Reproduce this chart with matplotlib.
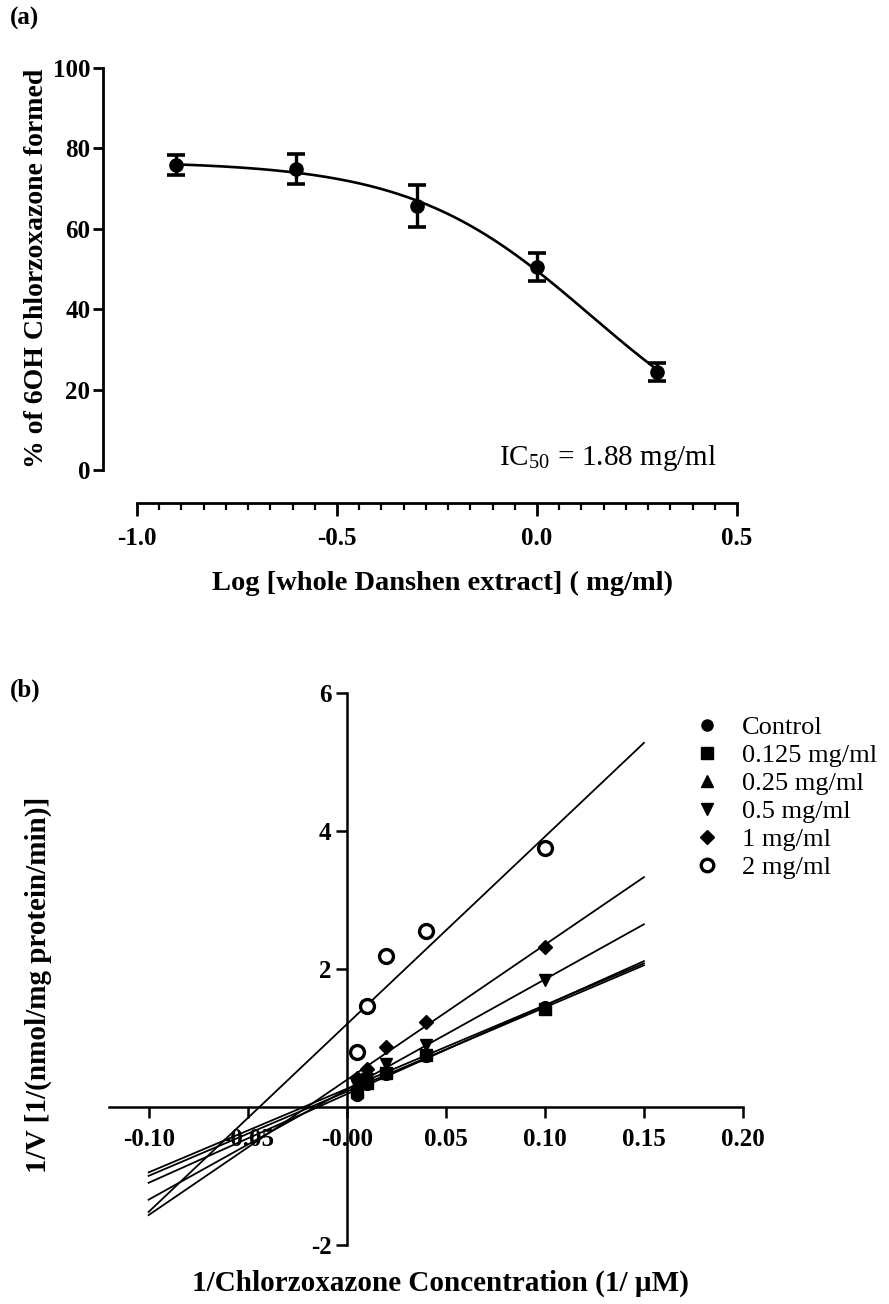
import numpy as np
import matplotlib
matplotlib.use("Agg")
import matplotlib.pyplot as plt
from matplotlib.lines import Line2D

# ---------------- data ----------------
# (a) CYP2E1 inhibition by whole Danshen extract
log_conc = [-0.903, -0.602, -0.301, 0.0, 0.301]
pct_formed = [75.9, 74.9, 65.7, 50.5, 24.4]
pct_sem = [2.4, 3.7, 5.3, 3.5, 2.2]
ic50_text = "1.88 mg/ml"

# (b) Lineweaver-Burk plot
inv_substrate = [0.005, 0.01, 0.02, 0.04, 0.1]
series_labels = ["Control", "0.125 mg/ml", "0.25 mg/ml", "0.5 mg/ml", "1 mg/ml", "2 mg/ml"]
inv_v_control = [0.18, 0.33, 0.48, 0.74, 1.45]
inv_v_0125 = [0.22, 0.35, 0.50, 0.76, 1.42]
inv_v_025 = [0.26, 0.38, 0.55, 0.80, 1.45]
inv_v_05 = [0.30, 0.40, 0.62, 0.90, 1.84]
inv_v_1 = [0.42, 0.55, 0.87, 1.23, 2.32]
inv_v_2 = [0.80, 1.46, 2.19, 2.55, 3.75]
series_values = [inv_v_control, inv_v_0125, inv_v_025, inv_v_05, inv_v_1, inv_v_2]
series_markers = ["o", "s", "^", "v", "D", "o"]
series_filled = [True, True, True, True, True, False]

x_ticks_b = [-0.10, -0.05, 0.0, 0.05, 0.10, 0.15, 0.20]
x_ticklabels_b = ["-0.10", "-0.05", "-0.00", "0.05", "0.10", "0.15", "0.20"]
y_ticks_b = [-2, 2, 4, 6]

# ---------------- style ----------------
plt.rcParams["font.family"] = ["Liberation Serif", "DejaVu Serif"]
plt.rcParams["mathtext.fontset"] = "stix"
plt.rcParams["axes.unicode_minus"] = False

W, H = 889, 1304
fig = plt.figure(figsize=(W / 100, H / 100), dpi=100)


def fx(px):
    return px / W


def fy(py):
    return 1 - py / H


def px2pt(px):
    return px * 72 / 100


# ---------------- panel (a) ----------------
axa = fig.add_axes([fx(137), fy(470), fx(600), 402 / H])
axa.set_xlim(-1.0, 0.5)
axa.set_ylim(0, 100)
for s in ("top", "right"):
    axa.spines[s].set_visible(False)
axa.spines["left"].set_position(("outward", px2pt(34)))
axa.spines["bottom"].set_position(("outward", px2pt(33)))
for s in ("left", "bottom"):
    axa.spines[s].set_linewidth(2.0)

axa.set_yticks([0, 20, 40, 60, 80, 100])
axa.set_xticks([-1.0, -0.5, 0.0, 0.5])
axa.set_xticklabels(["-1.0", "-0.5", "0.0", "0.5"])
minor = np.linspace(-1.0, 0.5, 28)
axa.set_xticks(minor, minor=True)
axa.tick_params(axis="y", length=7, width=2, labelsize=18, pad=2)
axa.tick_params(axis="x", which="major", length=9, width=2, labelsize=18, pad=8)
axa.tick_params(axis="x", which="minor", length=5, width=1.6)
for lab in axa.get_xticklabels() + axa.get_yticklabels():
    lab.set_fontweight("bold")

# sigmoidal fit (variable slope, bottom fixed at 0)
xd = np.array(log_conc)
yd = np.array(pct_formed)
tops = np.arange(70, 90.01, 0.2)
mids = np.arange(-0.2, 0.5001, 0.005)
hills = np.arange(0.5, 4.0001, 0.02)
T, C, Hh = np.meshgrid(tops, mids, hills, indexing="ij")
pred = T[..., None] / (1 + 10 ** ((xd - C[..., None]) * Hh[..., None]))
sse = ((pred - yd) ** 2).sum(axis=-1)
i, j, k = np.unravel_index(np.argmin(sse), sse.shape)
top, mid, hill = tops[i], mids[j], hills[k]
xc = np.linspace(xd.min(), xd.max(), 200)
axa.plot(xc, top / (1 + 10 ** ((xc - mid) * hill)), color="black", lw=1.9, zorder=2)

axa.errorbar(log_conc, pct_formed, yerr=pct_sem, fmt="o", color="black",
             ms=9.5, elinewidth=2.4, capsize=6.5, capthick=2.6, zorder=3)

fig.text(fx(608), fy(458), r"IC$_{\mathregular{50}}$ = " + ic50_text,
         ha="center", va="center", fontsize=21)
fig.text(fx(442), fy(583), "Log [whole Danshen extract] ( mg/ml)",
         ha="center", va="center", fontsize=20.5, fontweight="bold")
fig.text(fx(37), fy(268), "% of 6OH Chlorzoxazone formed", rotation=90,
         ha="center", va="center", fontsize=20, fontweight="bold")
fig.text(fx(10), fy(18), "(a)", ha="left", va="center", fontsize=18, fontweight="bold")

# ---------------- panel (b) ----------------
axb = fig.add_axes([fx(109), fy(1245), fx(634), 552 / H])
axb.set_xlim(-0.12, 0.20)
axb.set_ylim(-2, 6)
for s in ("top", "right"):
    axb.spines[s].set_visible(False)
axb.spines["left"].set_position(("data", 0))
axb.spines["bottom"].set_position(("data", 0))
for s in ("left", "bottom"):
    axb.spines[s].set_linewidth(1.8)
axb.set_xticks(x_ticks_b)
axb.set_xticklabels(x_ticklabels_b)
axb.set_yticks(y_ticks_b)
axb.tick_params(axis="both", length=8, width=1.8, labelsize=18)
axb.tick_params(axis="x", pad=7)
axb.tick_params(axis="y", pad=3)
for lab in axb.get_xticklabels() + axb.get_yticklabels():
    lab.set_fontweight("bold")

xs = np.array(inv_substrate)
xfit = np.array([-0.10, 0.15])
handles = []
for vals, mk, filled, lab in zip(series_values, series_markers, series_filled, series_labels):
    slope, icpt = np.polyfit(xs, np.array(vals), 1)
    axb.plot(xfit, slope * xfit + icpt, color="black", lw=1.3, zorder=2)
    ms = 8.5 if mk != "D" else 7.5
    if filled:
        axb.plot(xs, vals, ls="none", marker=mk, ms=ms, color="black", zorder=3)
        handles.append(Line2D([], [], ls="none", marker=mk, ms=ms - 0.5, color="black"))
    else:
        axb.plot(xs, vals, ls="none", marker=mk, ms=10, mfc="white", mec="black",
                 mew=2.4, zorder=3)
        handles.append(Line2D([], [], ls="none", marker=mk, ms=9, mfc="white",
                              mec="black", mew=2.4))

leg = fig.legend(handles, series_labels, loc="upper left",
                 bbox_to_anchor=(fx(694), fy(716)), frameon=False, fontsize=19,
                 handlelength=1.0, handletextpad=0.82, labelspacing=0.17,
                 borderpad=0, borderaxespad=0)

fig.text(fx(440), fy(1283), "1/Chlorzoxazone Concentration (1/ \u00b5M)",
         ha="center", va="center", fontsize=21, fontweight="bold")
fig.text(fx(38), fy(985), "1/V [1/(nmol/mg protein/min)]", rotation=90,
         ha="center", va="center", fontsize=21, fontweight="bold")
fig.text(fx(10), fy(690), "(b)", ha="left", va="center", fontsize=18, fontweight="bold")

fig.savefig("out.png", dpi=100)
